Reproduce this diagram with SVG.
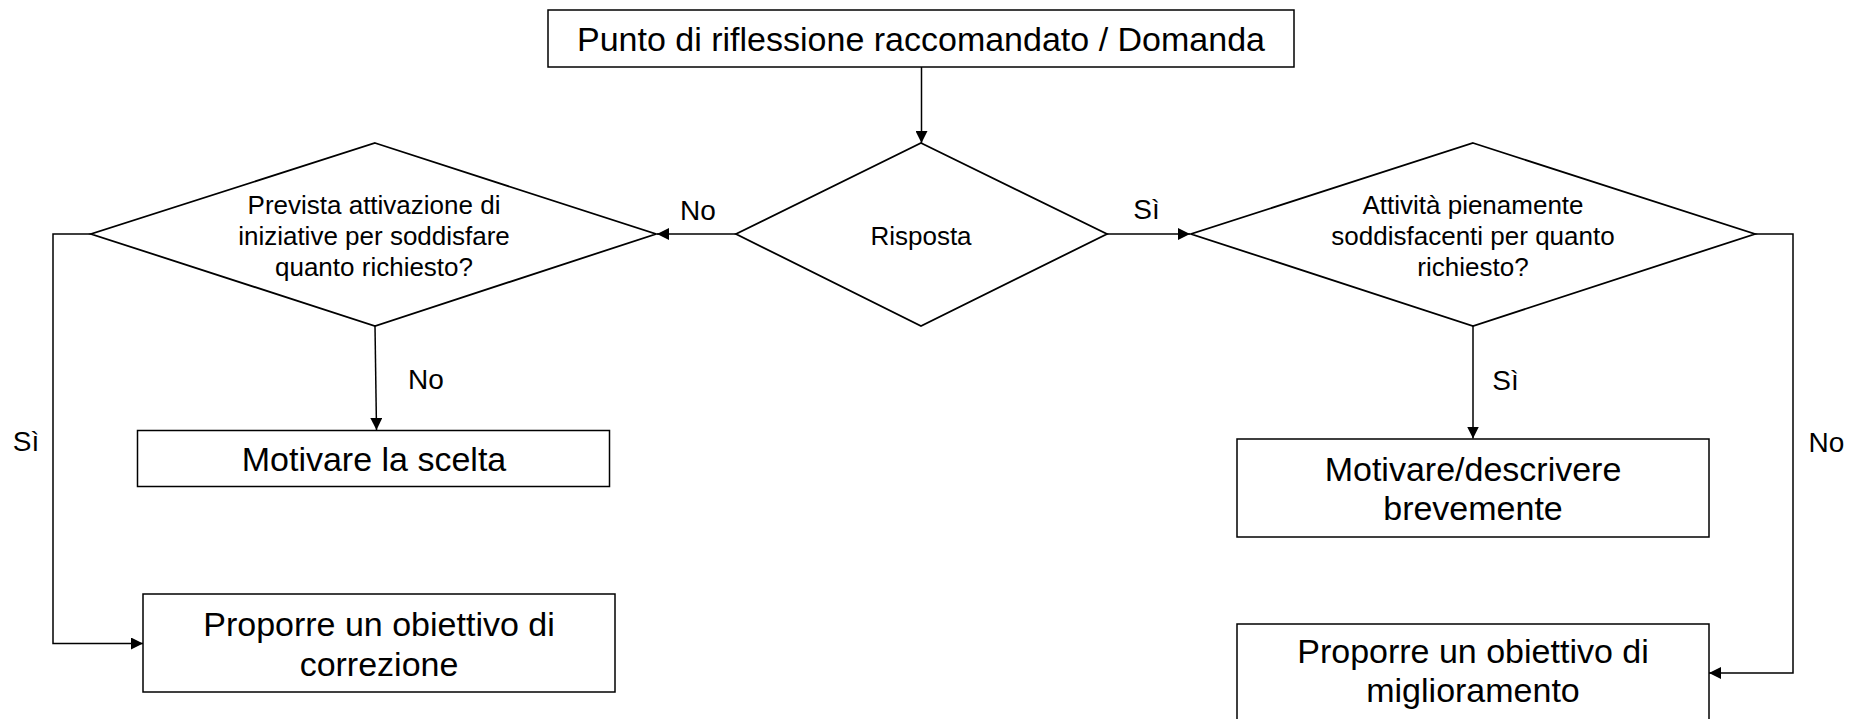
<svg xmlns="http://www.w3.org/2000/svg" width="1861" height="719" viewBox="0 0 1861 719">
<defs>
<style>
.box{fill:#fff;stroke:#000;stroke-width:1.5}
.dia{fill:#fff;stroke:#000;stroke-width:1.8}
.con{fill:none;stroke:#000;stroke-width:1.5}
.t{font-family:"Liberation Sans",Arial,Helvetica,sans-serif;fill:#000;text-anchor:middle}
.big{font-size:34px}
.mid{font-size:26px}
.lbl{font-size:28px}
</style>
<marker id="ah" viewBox="0 0 12 12" refX="12" refY="6" markerWidth="12" markerHeight="12" markerUnits="userSpaceOnUse" orient="auto">
<path d="M0,0 L12,6 L0,12 z" fill="#000"/>
</marker>
</defs>
<rect width="1861" height="719" fill="#fff"/>

<g id="connectors">
<path class="con" d="M921.5,67 L921.5,143" marker-end="url(#ah)"/>
<path class="con" d="M736,234 L657,234" marker-end="url(#ah)"/>
<path class="con" d="M1107,234 L1190,234" marker-end="url(#ah)"/>
<path class="con" d="M375,326 L376.5,430" marker-end="url(#ah)"/>
<path class="con" d="M91,234 L53,234 L53,643.5 L143,643.5" marker-end="url(#ah)"/>
<path class="con" d="M1473,326 L1473,438.5" marker-end="url(#ah)"/>
<path class="con" d="M1755,234 L1793,234 L1793,673 L1709,673" marker-end="url(#ah)"/>
<text class="t lbl" x="698" y="220">No</text>
<text class="t lbl" x="1146.5" y="219">Sì</text>
<text class="t lbl" x="426" y="389">No</text>
<text class="t lbl" x="26" y="451">Sì</text>
<text class="t lbl" x="1505.5" y="390">Sì</text>
<text class="t lbl" x="1826.5" y="452">No</text>
</g>

<g id="n-top">
<rect class="box" x="548" y="10" width="746" height="57"/>
<text class="t big" x="921" y="51">Punto di riflessione raccomandato / Domanda</text>
</g>

<g id="n-risposta">
<polygon class="dia" points="921,143 1107,234 921,326 736,234"/>
<text class="t mid" x="921" y="245">Risposta</text>
</g>

<g id="n-prevista">
<polygon class="dia" points="375,143 656,234 375,326 91,234"/>
<text class="t mid" x="374" y="214">Prevista attivazione di</text>
<text class="t mid" x="374" y="245">iniziative per soddisfare</text>
<text class="t mid" x="374" y="276">quanto richiesto?</text>
</g>

<g id="n-attivita">
<polygon class="dia" points="1473,143 1755,234 1473,326 1191,234"/>
<text class="t mid" x="1473" y="214">Attività pienamente</text>
<text class="t mid" x="1473" y="245">soddisfacenti per quanto</text>
<text class="t mid" x="1473" y="276">richiesto?</text>
</g>

<g id="n-motivare">
<rect class="box" x="137.5" y="430.5" width="472" height="56"/>
<text class="t big" x="374" y="471">Motivare la scelta</text>
</g>

<g id="n-correzione">
<rect class="box" x="143" y="594" width="472" height="98"/>
<text class="t big" x="379" y="636">Proporre un obiettivo di</text>
<text class="t big" x="379" y="676">correzione</text>
</g>

<g id="n-descrivere">
<rect class="box" x="1237" y="439" width="472" height="98"/>
<text class="t big" x="1473" y="481">Motivare/descrivere</text>
<text class="t big" x="1473" y="520">brevemente</text>
</g>

<g id="n-miglioramento">
<rect class="box" x="1237" y="624" width="472" height="98"/>
<text class="t big" x="1473" y="663">Proporre un obiettivo di</text>
<text class="t big" x="1473" y="702">miglioramento</text>
</g>
</svg>
